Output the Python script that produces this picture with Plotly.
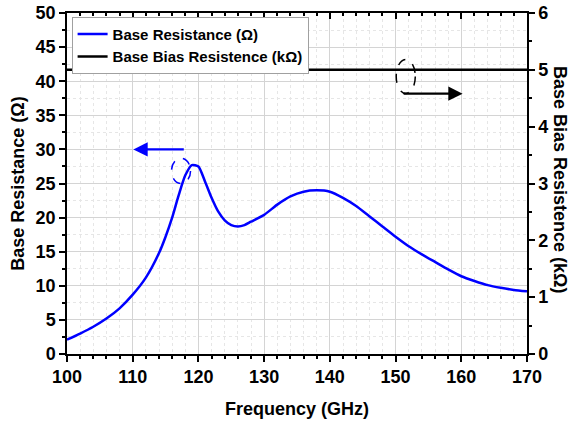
import plotly.graph_objects as go

# Data
freq = [100, 102, 104, 106, 108, 110, 112, 114, 115, 116, 117, 118, 119, 120,
        121, 122, 123, 124, 125, 126, 127, 128, 130, 132, 134, 136, 138, 140,
        142, 144, 146, 148, 150, 152, 154, 156, 158, 160, 162, 164, 166, 168, 170]
base_res = [2.1, 3.0, 4.0, 5.2, 6.7, 8.7, 11.2, 14.8, 17.2, 20.0, 23.3, 26.2, 27.7, 27.5,
            25.3, 22.9, 20.9, 19.6, 18.9, 18.7, 18.9, 19.4, 20.4, 21.9, 23.1, 23.8, 24.0, 23.8,
            22.9, 21.7, 20.2, 18.7, 17.2, 15.8, 14.6, 13.5, 12.4, 11.4, 10.7, 10.1, 9.7, 9.4, 9.2]
bias_freq = [100, 170]
bias_res = [5, 5]

x_ticks = [100, 110, 120, 130, 140, 150, 160, 170]
y_ticks = [0, 5, 10, 15, 20, 25, 30, 35, 40, 45, 50]
y2_ticks = [0, 1, 2, 3, 4, 5, 6]

FONT = "Liberation Sans, Arial, sans-serif"


def bold(vals):
    return [f"<b>{v}</b>" for v in vals]


fig = go.Figure()
fig.add_trace(go.Scatter(x=freq, y=base_res, mode="lines", name="<b>Base Resistance (Ω)</b>",
                         line=dict(color="#0000ff", width=2.5, shape="spline", smoothing=0.6)))
fig.add_trace(go.Scatter(x=bias_freq, y=bias_res, mode="lines",
                         name="<b>Base Bias Resistence (kΩ)</b>",
                         line=dict(color="black", width=2.5), yaxis="y2"))
# invisible trace to activate top axis
fig.add_trace(go.Scatter(x=bias_freq, y=bias_res, mode="lines", xaxis="x2", yaxis="y2",
                         showlegend=False, hoverinfo="skip", line=dict(width=0), opacity=0))

tickfont = dict(family=FONT, size=18, color="black")
titlefont = dict(family=FONT, size=18, color="black")

fig.update_layout(
    width=569, height=421,
    margin=dict(l=67, r=42, t=13, b=67),
    paper_bgcolor="white", plot_bgcolor="white",
    showlegend=True,
    legend=dict(x=0.01, y=0.989, xanchor="left", yanchor="top",
                bgcolor="white", bordercolor="#a0a0a0", borderwidth=1,
                font=dict(family=FONT, size=15, color="black"),
                tracegroupgap=0, itemwidth=30),
    xaxis=dict(range=[100, 170], tickmode="array", tickvals=x_ticks, ticktext=bold(x_ticks),
               ticks="outside", ticklen=6, tickwidth=1.5, automargin=False,
               tickcolor="black", showline=True, linecolor="black", linewidth=1.5, mirror=True,
               showgrid=True, gridcolor="#d4d4d4", gridwidth=1, zeroline=False,
               minor=dict(tickmode="linear", tick0=100, dtick=2, ticks="outside", ticklen=3,
                          tickcolor="black", showgrid=True, gridcolor="#e6e6e6", griddash="dot"),
               tickfont=tickfont,
               title=dict(text="<b>Frequency (GHz)</b>", font=titlefont, standoff=16)),
    xaxis2=dict(range=[100, 170], tick0=100, dtick=10, overlaying="x", side="top",
                ticks="inside", ticklen=6, tickwidth=1.5, tickcolor="black", showticklabels=False,
                showgrid=False, zeroline=False, showline=False, automargin=False,
                minor=dict(dtick=2, ticks="inside", ticklen=3, tickcolor="black", showgrid=False)),
    yaxis=dict(range=[0, 50], tickmode="array", tickvals=y_ticks, ticktext=bold(y_ticks),
               ticks="outside", ticklen=6, tickwidth=1.5, tickcolor="black", automargin=False,
               showline=True, linecolor="black", linewidth=1.5,
               showgrid=True, gridcolor="#d4d4d4", gridwidth=1, zeroline=False,
               minor=dict(tickmode="linear", tick0=0, dtick=2.5, ticks="outside", ticklen=3,
                          tickcolor="black", showgrid=True, gridcolor="#e6e6e6", griddash="dot"),
               tickfont=tickfont,
               title=dict(text="<b>Base Resistance (Ω)</b>", font=titlefont, standoff=6)),
    yaxis2=dict(range=[0, 6], tickmode="array", tickvals=y2_ticks, ticktext=bold(y2_ticks),
                overlaying="y", side="right", ticks="outside", ticklen=6, automargin=False,
                tickwidth=1.5, tickcolor="black", showline=True, linecolor="black", linewidth=1.5,
                showgrid=False, zeroline=False,
                minor=dict(tickmode="linear", tick0=0, dtick=0.5, ticks="outside", ticklen=3,
                           tickcolor="black"),
                tickfont=tickfont),
)

# Right axis title (reads top to bottom)
fig.add_annotation(text="<b>Base Bias Resistence (kΩ)</b>", xref="paper", yref="paper",
                   x=1.072, y=0.51, textangle=90, showarrow=False,
                   font=titlefont, xanchor="center", yanchor="middle")

# Arrows
fig.add_annotation(x=110.1, y=30, ax=118.0, ay=30, xref="x", yref="y", axref="x", ayref="y",
                   text="", showarrow=True, arrowhead=2, arrowsize=1.3, arrowwidth=2.2,
                   arrowcolor="#0000ff")
fig.add_annotation(x=160.2, y=4.58, ax=151.0, ay=4.58, xref="x", yref="y2", axref="x", ayref="y2",
                   text="", showarrow=True, arrowhead=2, arrowsize=1.3, arrowwidth=2.2,
                   arrowcolor="black")

# Dashed ellipses
fig.add_shape(type="circle", xref="x", yref="y", x0=115.9, x1=118.8, y0=25.0, y1=28.7,
              line=dict(color="#0000ff", width=1.5, dash="dash"))
fig.add_shape(type="circle", xref="x", yref="y", x0=150.1, x1=153.0, y0=38.2, y1=43.2,
              line=dict(color="black", width=1.5, dash="dash"))

fig.write_html("out.html")
